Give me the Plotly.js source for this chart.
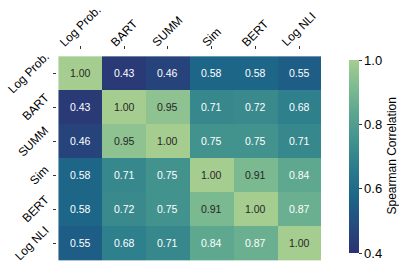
<!DOCTYPE html>
<html><head><meta charset="utf-8">
<script src="https://cdn.plot.ly/plotly-3.0.1.min.js"></script>
<style>body{margin:0;padding:0;}#chart{width:399px;height:269px;}</style>
</head><body><div id="chart"></div>
<script>
const labels = ["Log Prob.", "BART", "SUMM", "Sim", "BERT", "Log NLI"];
const values = [
  [1.00, 0.43, 0.46, 0.58, 0.58, 0.55],
  [0.43, 1.00, 0.95, 0.71, 0.72, 0.68],
  [0.46, 0.95, 1.00, 0.75, 0.75, 0.71],
  [0.58, 0.71, 0.75, 1.00, 0.91, 0.84],
  [0.58, 0.72, 0.75, 0.91, 1.00, 0.87],
  [0.55, 0.68, 0.71, 0.84, 0.87, 1.00]
];
const colorbarTicks = [0.4, 0.6, 0.8, 1.0];
const colorbarTitle = "Spearman Correlation";

const crest = [
  [0.0, "#2c3172"], [0.142857, "#254b7f"], [0.285714, "#1c6488"], [0.428571, "#287a8c"],
  [0.571429, "#40908e"], [0.714286, "#59a590"], [0.857143, "#7dba91"], [1.0, "#a5cd90"]
];
const font = "Liberation Sans, Arial, Helvetica, sans-serif";

const annotations = [];
values.forEach((row, i) => row.forEach((v, j) => {
  annotations.push({x: labels[j], y: labels[i], xref: "x", yref: "y", text: v.toFixed(2), showarrow: false,
    font: {family: font, size: 10.5, color: v >= 0.9 ? "#262626" : "#ffffff"}});
}));
labels.forEach(l => {
  annotations.push({x: l, xref: "x", y: 1, yref: "paper", yshift: 1, xanchor: "center", yanchor: "bottom",
    textangle: -45, text: l, showarrow: false, borderpad: 0, borderwidth: 0,
    font: {family: font, size: 12, color: "#000"}});
  annotations.push({x: 0, xref: "paper", y: l, yref: "y", xshift: -5, xanchor: "right", yanchor: "middle",
    textangle: -45, text: l, showarrow: false, borderpad: 0, borderwidth: 0,
    font: {family: font, size: 12, color: "#000"}});
});
annotations.push({x: 1, xref: "paper", xshift: 63, y: 0.5, yref: "paper", xanchor: "left", yanchor: "middle",
  textangle: -90, text: colorbarTitle, showarrow: false, borderpad: 0, borderwidth: 0,
  font: {family: font, size: 12, color: "#000"}});

Plotly.newPlot("chart", [{
  type: "heatmap", x: labels, y: labels, z: values,
  zmin: 0.4, zmax: 1.0, colorscale: crest, xgap: 0, ygap: 0,
  hoverinfo: "none",
  colorbar: {
    x: 1.07, xanchor: "left", xref: "paper", y: 0.5, yanchor: "middle",
    thickness: 10, thicknessmode: "pixels", len: 1.0, lenmode: "fraction",
    outlinewidth: 0, tickvals: colorbarTicks, ticktext: colorbarTicks.map(t => t.toFixed(1)),
    ticks: "outside", ticklen: 3, tickwidth: 1, tickcolor: "#333",
    tickfont: {family: font, size: 13, color: "#000"}
  }
}], {
  width: 399, height: 269,
  margin: {l: 57, r: 71, t: 50, b: 6, pad: 0},
  paper_bgcolor: "#fff", plot_bgcolor: "#fff",
  font: {family: font, size: 12, color: "#000"},
  xaxis: {side: "top", showticklabels: false, ticks: "outside", ticklen: 3, tickcolor: "#333",
    showgrid: false, zeroline: false, showline: false},
  yaxis: {autorange: "reversed", showticklabels: false, ticks: "outside", ticklen: 3, tickcolor: "#333",
    showgrid: false, zeroline: false, showline: false},
  annotations: annotations
}, {staticPlot: true, displayModeBar: false});
</script></body></html>
